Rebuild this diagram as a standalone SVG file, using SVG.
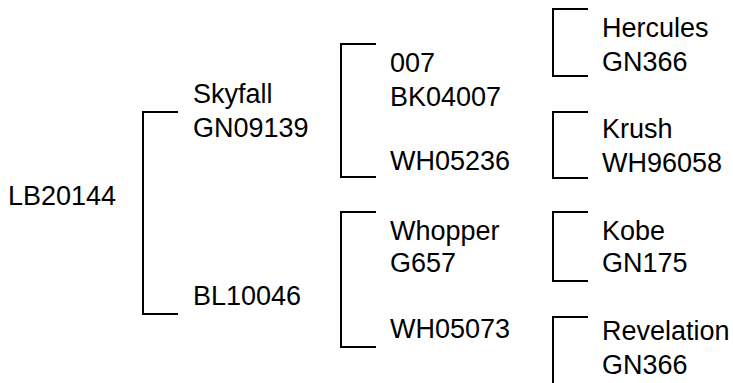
<svg xmlns="http://www.w3.org/2000/svg" width="733" height="383" viewBox="0 0 733 383">
<style>
text{font-family:"Liberation Sans",Arial,sans-serif;font-size:27px;fill:#000}
.br{fill:none;stroke:#000;stroke-width:2}
</style>
<rect width="733" height="383" fill="#fff"/>
<g id="connectors">
<path class="br" d="M178,112 H143 V314 H178"/>
<path class="br" d="M376,44 H341 V177 H376"/>
<path class="br" d="M376,212 H341 V347 H376"/>
<path class="br" d="M588,9 H553 V76 H588"/>
<path class="br" d="M588,112 H553 V178 H588"/>
<path class="br" d="M588,212 H553 V281 H588"/>
<path class="br" d="M588,317 H553 V390"/>
</g>
<g id="n-LB20144"><text x="8" y="205">LB20144</text></g>
<g id="n-Skyfall"><text x="193" y="103">Skyfall</text><text x="193" y="137">GN09139</text></g>
<g id="n-BL10046"><text x="193" y="305">BL10046</text></g>
<g id="n-007"><text x="390" y="72">007</text><text x="390" y="106">BK04007</text></g>
<g id="n-WH05236"><text x="390" y="170">WH05236</text></g>
<g id="n-Whopper"><text x="390" y="240">Whopper</text><text x="390" y="272">G657</text></g>
<g id="n-WH05073"><text x="390" y="338">WH05073</text></g>
<g id="n-Hercules"><text x="602" y="37">Hercules</text><text x="602" y="71">GN366</text></g>
<g id="n-Krush"><text x="602" y="138">Krush</text><text x="602" y="172">WH96058</text></g>
<g id="n-Kobe"><text x="602" y="240">Kobe</text><text x="602" y="272">GN175</text></g>
<g id="n-Revelation"><text x="602" y="340">Revelation</text><text x="602" y="374">GN366</text></g>
</svg>
